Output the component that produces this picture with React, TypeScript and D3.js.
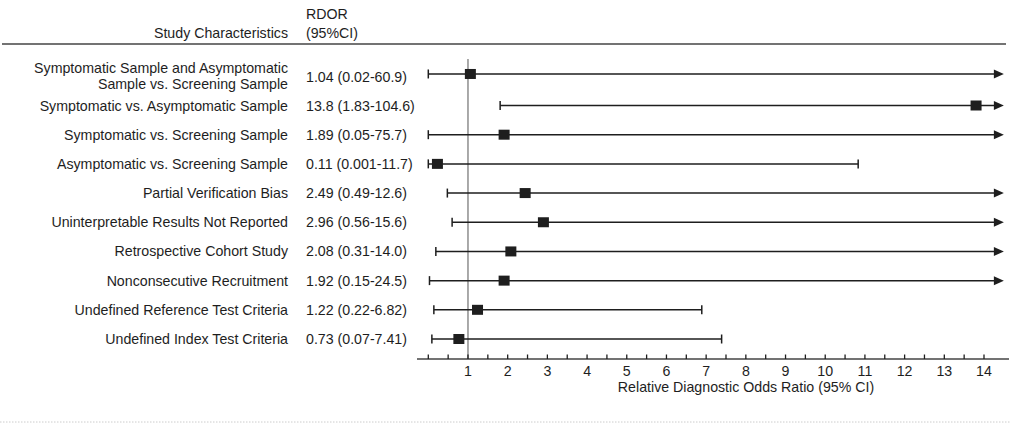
import React from "react";
import * as d3 from "d3";

const categories: string[] = [
  "Symptomatic Sample and Asymptomatic\nSample vs. Screening Sample",
  "Symptomatic vs. Asymptomatic Sample",
  "Symptomatic vs. Screening Sample",
  "Asymptomatic vs. Screening Sample",
  "Partial Verification Bias",
  "Uninterpretable Results Not Reported",
  "Retrospective Cohort Study",
  "Nonconsecutive Recruitment",
  "Undefined Reference Test Criteria",
  "Undefined Index Test Criteria",
];

const rdorText: string[] = [
  "1.04 (0.02-60.9)",
  "13.8 (1.83-104.6)",
  "1.89 (0.05-75.7)",
  "0.11 (0.001-11.7)",
  "2.49 (0.49-12.6)",
  "2.96 (0.56-15.6)",
  "2.08 (0.31-14.0)",
  "1.92 (0.15-24.5)",
  "1.22 (0.22-6.82)",
  "0.73 (0.07-7.41)",
];

// plotted values
const estimate: number[] = [1.06, 13.8, 1.91, 0.23, 2.44, 2.9, 2.08, 1.91, 1.24, 0.77];
const ciLow: number[] = [0.0, 1.81, 0.0, 0.0, 0.48, 0.6, 0.19, 0.03, 0.14, 0.09];
const ciHigh: number[] = [60.9, 104.6, 75.7, 10.83, 12.6, 15.6, 14.0, 24.5, 6.89, 7.39];
const arrowRight: boolean[] = [true, true, true, false, true, true, true, true, false, false];

const majorTicks: number[] = [1, 2, 3, 4, 5, 6, 7, 8, 9, 10, 11, 12, 13, 14];
const minorTicks: number[] = d3.range(0, 14.01, 0.5);

const headerLabel = "Study Characteristics";
const headerValue = ["RDOR", "(95%CI)"];
const axisTitle = "Relative Diagnostic Odds Ratio (95% CI)";

const W = 1011;
const H = 424;
const FONT = "'Liberation Sans', Arial, Helvetica, sans-serif";
const INK = "#1e1e1e";
const FS = 14.2;

export default function App() {
  const x = d3.scaleLinear().domain([0, 14]).range([428.3, 984]);
  const y = d3.scaleLinear().domain([1, 9]).range([105.5, 339]);
  const rowY = (i: number) => (i === 0 ? y(-0.08) : y(i));
  const axisY = 359;
  const arrowTip = x(14.5);
  const labelRight = 288;
  const valueLeft = 306;

  return (
    <div style={{ position: "absolute", left: 0, top: 0 }}>
      <svg width={W} height={H} style={{ display: "block", background: "#fff" }} fontFamily={FONT}>
        {/* header */}
        <text x={labelRight} y={38} fontSize={FS} fill={INK} textAnchor="end">
          {headerLabel}
        </text>
        <text x={valueLeft} y={19} fontSize={FS} fill={INK}>
          {headerValue[0]}
        </text>
        <text x={valueLeft} y={38} fontSize={FS} fill={INK}>
          {headerValue[1]}
        </text>
        <line x1={2} x2={1006} y1={44} y2={44} stroke="#444" strokeWidth={1.6} />

        {/* reference line at 1 */}
        <line x1={x(1)} x2={x(1)} y1={59} y2={axisY} stroke="#555" strokeWidth={1} />

        {/* rows */}
        {categories.map((c, i) => {
          const cy = rowY(i);
          const lines = c.split("\n");
          const lo = x(ciLow[i]);
          const hiX = arrowRight[i] ? arrowTip - 8 : x(Math.min(ciHigh[i], 14.5));
          return (
            <g key={i}>
              {lines.length === 1 ? (
                <text x={labelRight} y={cy + 5} fontSize={FS} fill={INK} textAnchor="end">
                  {c}
                </text>
              ) : (
                lines.map((l, k) => (
                  <text
                    key={k}
                    x={labelRight}
                    y={cy + 7 + (k - (lines.length - 1) / 2) * 16.6}
                    fontSize={FS}
                    fill={INK}
                    textAnchor="end"
                  >
                    {l}
                  </text>
                ))
              )}
              <text x={valueLeft} y={cy + (lines.length > 1 ? 8 : 5)} fontSize={FS} fill={INK}>
                {rdorText[i]}
              </text>
              <line x1={lo} x2={hiX} y1={cy} y2={cy} stroke={INK} strokeWidth={1.5} />
              <line x1={lo} x2={lo} y1={cy - 4.5} y2={cy + 4.5} stroke={INK} strokeWidth={1.5} />
              {arrowRight[i] ? (
                <path
                  d={`M${arrowTip},${cy} L${arrowTip - 10},${cy - 4.5} L${arrowTip - 10},${cy + 4.5} Z`}
                  fill={INK}
                />
              ) : (
                <line x1={hiX} x2={hiX} y1={cy - 4.5} y2={cy + 4.5} stroke={INK} strokeWidth={1.5} />
              )}
              <rect x={x(estimate[i]) - 5.5} y={cy - 5} width={11} height={10} fill={INK} />
            </g>
          );
        })}

        {/* axis */}
        <line x1={417} x2={1009} y1={axisY} y2={axisY} stroke="#444" strokeWidth={1.5} />
        {minorTicks.map((t) => (
          <line key={t} x1={x(t)} x2={x(t)} y1={axisY} y2={axisY - 4.5} stroke={INK} strokeWidth={1.3} />
        ))}
        {majorTicks.map((t) => (
          <text key={t} x={x(t)} y={375.5} fontSize={FS} fill={INK} textAnchor="middle">
            {t}
          </text>
        ))}
        <text x={746} y={392} fontSize={FS} fill={INK} textAnchor="middle">
          {axisTitle}
        </text>

        {/* bottom rule */}
        <line x1={0} x2={W} y1={422} y2={422} stroke="#ccc" strokeWidth={1} strokeDasharray="1.5,1.5" />
      </svg>
    </div>
  );
}
